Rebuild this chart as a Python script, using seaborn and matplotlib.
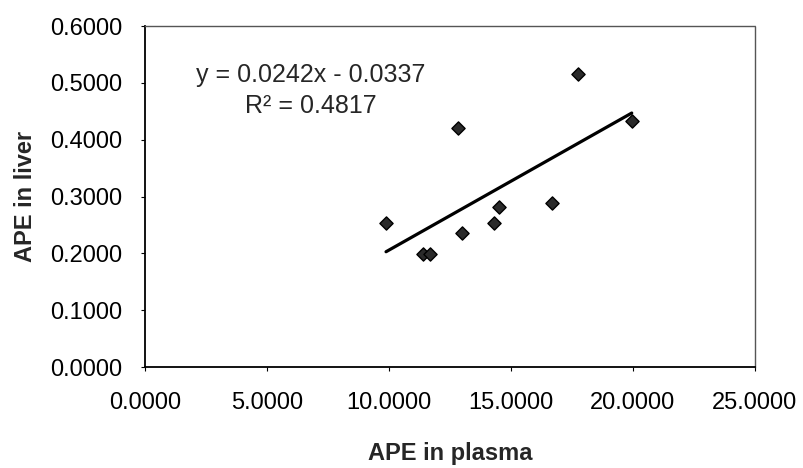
import numpy as np
import pandas as pd
import matplotlib
matplotlib.use('Agg')
import matplotlib.pyplot as plt
import seaborn as sns

# APE values
ape_plasma = [9.88, 11.41, 11.68, 12.85, 13.00, 14.30, 14.52, 16.69, 17.73, 19.95]
ape_liver = [0.2535, 0.1990, 0.1990, 0.4200, 0.2350, 0.2530, 0.2810, 0.2880, 0.5150, 0.4320]

x_ticks = [0, 5, 10, 15, 20, 25]
y_ticks = [0.0, 0.1, 0.2, 0.3, 0.4, 0.5, 0.6]

eq_text = 'y = 0.0242x - 0.0337\nR² = 0.4817'

df = pd.DataFrame({'plasma': ape_plasma, 'liver': ape_liver})

sns.set_theme(style='white')
plt.rcParams['font.family'] = ['Liberation Sans', 'DejaVu Sans']

fig = plt.figure(figsize=(8.04, 4.68), dpi=100)
ax = fig.add_axes([0.1803, 0.2158, 0.939 - 0.1803, 0.9444 - 0.2158])

# trend line over the data range
sns.regplot(data=df, x='plasma', y='liver', scatter=False, ci=None,
            color='black', line_kws={'linewidth': 2.3}, ax=ax)

sns.scatterplot(data=df, x='plasma', y='liver', marker='D', s=45,
                color='#2a2a2a', edgecolor='black', linewidth=1.0, ax=ax)

ax.set_xlim(0, 25)
ax.set_ylim(0, 0.6)
ax.set_xticks(x_ticks)
ax.set_yticks(y_ticks)
ax.set_xticklabels([f'{v:.4f}' for v in x_ticks])
ax.set_yticklabels([f'{v:.4f}' for v in y_ticks])
ax.tick_params(axis='x', labelsize=17, length=3, width=0.8, pad=15,
               direction='out', bottom=True, colors='black')
ax.tick_params(axis='y', labelsize=17, length=3, width=0.8, pad=13,
               direction='out', left=True, colors='black')

ax.set_xlabel('APE in plasma', fontsize=17, fontweight='bold', labelpad=20)
ax.set_ylabel('APE in liver', fontsize=17, fontweight='bold', labelpad=10)

for side in ['left', 'bottom']:
    ax.spines[side].set_color('black')
    ax.spines[side].set_linewidth(1.3)
for side in ['top', 'right']:
    ax.spines[side].set_color('#555555')
    ax.spines[side].set_linewidth(1.0)
    ax.spines[side].set_linestyle((0, (1, 1)))

ax.text(6.8, 0.487, eq_text, fontsize=18, ha='center', va='center',
        multialignment='center', linespacing=1.35)

fig.savefig('out.png', dpi=100)
